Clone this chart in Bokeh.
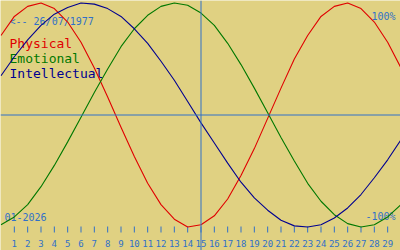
from bokeh.plotting import figure
from bokeh.models import Range1d, Span
from bokeh.core.properties import value
from bokeh.embed import file_html
from bokeh.resources import INLINE

# ---- data ----
days = list(range(0, 31))
physical = [0.71, 0.88, 0.97, 1.00, 0.95, 0.83, 0.65, 0.42, 0.16, -0.11,
            -0.37, -0.61, -0.80, -0.93, -1.00, -0.98, -0.90, -0.75, -0.54, -0.30,
            -0.03, 0.24, 0.50, 0.71, 0.88, 0.97, 1.00, 0.95, 0.83, 0.65, 0.42]
emotional = [-0.98, -0.91, -0.80, -0.64, -0.45, -0.24, -0.02, 0.20, 0.41, 0.61,
             0.77, 0.89, 0.97, 1.00, 0.98, 0.91, 0.80, 0.64, 0.45, 0.24,
             0.02, -0.20, -0.41, -0.61, -0.77, -0.89, -0.97, -1.00, -0.98, -0.91, -0.80]
intellectual = [0.35, 0.52, 0.67, 0.80, 0.90, 0.96, 1.00, 0.99, 0.95, 0.88,
                0.77, 0.64, 0.48, 0.31, 0.12, -0.07, -0.25, -0.43, -0.60, -0.74,
                -0.85, -0.94, -0.99, -1.00, -0.98, -0.92, -0.83, -0.71, -0.56, -0.40, -0.22]
today = 15
tick_days = list(range(1, 30))
tick_labels = [str(d) for d in tick_days]
series_names = ["Physical", "Emotional", "Intellectual"]
birth_text = "<-- 26/07/1977"
month_text = "01-2026"
top_text = "100%"
bottom_text = "-100%"

# ---- style ----
BG = "#E0D182"
BLUE = "#3070C8"
RED = "#E00000"
GREEN = "#007800"
NAVY = "#000090"
MONO = value("DejaVu Sans Mono")

W, H = 400, 250
XPX = W / 30.0
X0 = -0.5 / XPX
CY, AMP = 114.5, 112.0


def xv(px):
    return X0 + px / XPX


def yv(px):
    return (CY - px) / AMP


p = figure(width=W, height=H, x_range=Range1d(X0, X0 + 30), y_range=Range1d(yv(H), yv(0)),
           output_backend="svg", toolbar_location=None, x_axis_type=None, y_axis_type=None,
           min_border=0)
p.background_fill_color = BG
p.border_fill_color = BG
p.outline_line_color = None
p.grid.visible = False

# texts
p.text(x=[xv(9)], y=[yv(21)], text=[birth_text], text_font=MONO, text_font_size="10px",
       text_color=BLUE, text_baseline="alphabetic", text_align="left")
for name, col, base in zip(series_names, [RED, GREEN, NAVY], [42.5, 57.5, 72.5]):
    p.text(x=[xv(9)], y=[yv(base)], text=[name], text_font=MONO, text_font_size="13px",
           text_color=col, text_baseline="alphabetic", text_align="left")
p.text(x=[xv(395)], y=[yv(16)], text=[top_text], text_font=MONO, text_font_size="10px",
       text_color=BLUE, text_baseline="alphabetic", text_align="right")
p.text(x=[xv(4)], y=[yv(216)], text=[month_text], text_font=MONO, text_font_size="10px",
       text_color=BLUE, text_baseline="alphabetic", text_align="left")
p.text(x=[xv(395)], y=[yv(216)], text=[bottom_text], text_font=MONO, text_font_size="10px",
       text_color=BLUE, text_baseline="alphabetic", text_align="right")

# ticks
n = len(tick_days)
p.segment(x0=tick_days, y0=[yv(226)] * n, x1=tick_days, y1=[yv(232)] * n,
          line_color=BLUE, line_width=1)
p.text(x=tick_days, y=[yv(242.5)] * n, text=tick_labels, text_font=MONO,
       text_font_size="9px", text_color=BLUE, text_baseline="alphabetic", text_align="center")

# curves
p.line(days, physical, line_color=RED, line_width=1.1)
p.line(days, emotional, line_color=GREEN, line_width=1.1)
p.line(days, intellectual, line_color=NAVY, line_width=1.1)

p.add_layout(Span(location=0, dimension="width", line_color=BLUE, line_width=1))
p.add_layout(Span(location=today, dimension="height", line_color=BLUE, line_width=1))

open("out.html", "w").write(file_html(p, INLINE))
